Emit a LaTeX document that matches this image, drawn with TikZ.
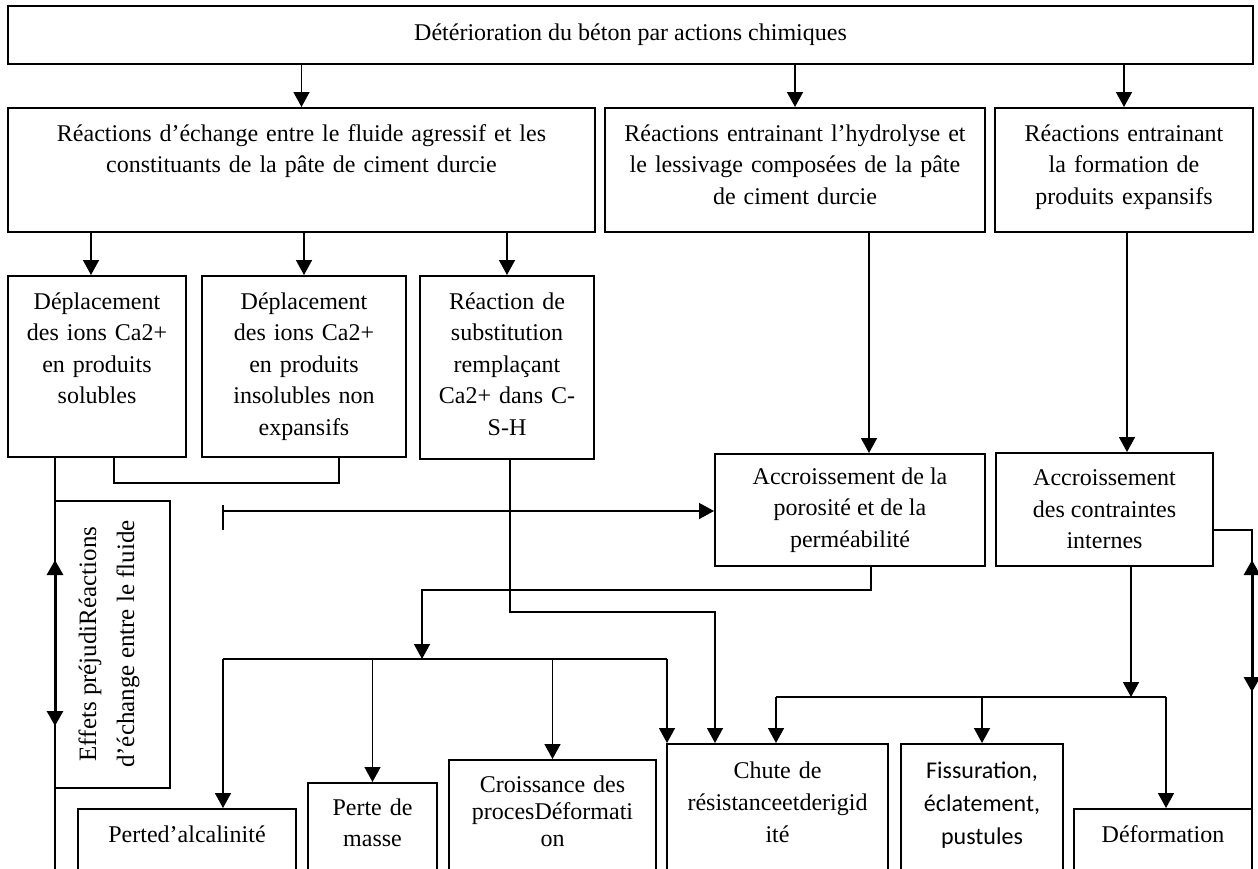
\documentclass[tikz,border=0pt]{standalone}
\usepackage{fontspec}
\setmainfont{Liberation Serif}
\newfontfamily\calib{Carlito}
\usetikzlibrary{arrows.meta}
\begin{document}
\begin{tikzpicture}[x=0.5pt,y=-0.5pt,
  box/.style={draw, line width=1pt, inner sep=0pt},
  cbox/.style={draw, line width=1pt, inner sep=0pt, align=center, font=\fontsize{12}{15.75}\selectfont},
  txt/.style={inner sep=0pt, align=center, anchor=base, font=\fontsize{12}{15.75}\selectfont},
  ln/.style={line width=0.8pt},
  arr/.style={line width=0.8pt, -{Triangle[length=7.5pt,width=8pt]}},
  dbl/.style={line width=1.5pt, {Triangle[length=7.5pt,width=8pt]}-{Triangle[length=7.5pt,width=8pt]}},
]
\useasboundingbox (0,0) rectangle (1258,868);
\fill[white] (0,0) rectangle (1258,868);
\clip (0,0) rectangle (1258,868);

% level 1
\node[cbox, minimum width=622.5pt, minimum height=29pt] (top) at (630.5,35) {Détérioration du béton par actions chimiques};

% level 2
\node[box, minimum width=293.5pt, minimum height=62pt] (rA) at (301.5,170) {};
\node[txt, text width=293.5pt] (tA) at (301.5,141) {Réactions d’échange entre le fluide agressif et les\\constituants de la pâte de ciment durcie};
\node[box, minimum width=190pt, minimum height=62pt] (rB) at (795,170) {};
\node[txt, text width=190pt] (tB) at (795,141) {Réactions entrainant l’hydrolyse et\\le lessivage composées de la pâte\\de ciment durcie};
\node[box, minimum width=129pt, minimum height=62pt] (rC) at (1124,170) {};
\node[txt, text width=129pt] (tC) at (1124,141) {Réactions entrainant\\la formation de\\produits expansifs};

\draw[arr] (top.south -| rA.north) -- (rA.north);
\draw[arr] (top.south -| rB.north) -- (rB.north);
\draw[arr] (top.south -| rC.north) -- (rC.north);

% level 3
\node[box, minimum width=89pt, minimum height=90.5pt] (b1) at (97,366.5) {};
\node[txt, text width=89pt] (t1) at (97,309) {Déplacement\\des ions Ca2+\\en produits\\solubles};
\node[box, minimum width=102pt, minimum height=90.5pt] (b2) at (304,366.5) {};
\node[txt, text width=102pt] (t2) at (304,309) {Déplacement\\des ions Ca2+\\en produits\\insolubles non\\expansifs};
\node[box, minimum width=87pt, minimum height=91.5pt] (b3) at (507,367.5) {};
\node[txt, text width=87pt] (t3) at (507,309) {Réaction de\\substitution\\remplaçant\\Ca2+ dans C-\\S-H};

\coordinate (a1) at (91,0);
\draw[arr] (rA.south -| a1) -- (b1.north -| a1);
\draw[arr] (rA.south -| b2.north) -- (b2.north);
\draw[arr] (rA.south -| b3.north) -- (b3.north);

% accroissement boxes
\node[cbox, minimum width=135pt, minimum height=56pt] (poro) at (850,510) {Accroissement de la\\porosité et de la\\perméabilité};
\node[cbox, minimum width=108.5pt, minimum height=56.5pt] (contr) at (1104.5,509.5) {Accroissement\\des contraintes\\internes};
\coordinate (pa) at (869,0);
\draw[arr] (rB.south -| pa) -- (poro.north -| pa);
\coordinate (ca) at (1127,0);
\draw[arr] (rC.south -| ca) -- (contr.north -| ca);

% rotated box
\node[box, minimum width=57.5pt, minimum height=143.5pt] (eff) at (112.5,644.5) {};
\node[rotate=90, inner sep=0pt, align=center, font=\fontsize{12.5}{19}\selectfont] (teff) at (109,644) {Effets préjudiRéactions\\d’échange entre le fluide};

% bottom boxes
\node[box, minimum width=109pt, minimum height=35.5pt] (alc) at (187,844.5) {};
\node[txt, text width=109pt] (talc) at (187,842) {Perted’alcalinité};
\node[box, minimum width=64.5pt, minimum height=48.5pt] (masse) at (372.5,831.5) {};
\node[txt, text width=64.5pt] (tmasse) at (372.5,815) {Perte de\\masse};
\node[box, minimum width=103.5pt, minimum height=60pt] (croiss) at (552.5,820) {};
\node[txt, text width=103.5pt, font=\fontsize{12}{13.5}\selectfont] (tcroiss) at (552.5,792) {Croissance des\\procesDéformati\\on};
\node[box, minimum width=110.5pt, minimum height=68pt] (chute) at (777.5,812) {};
\node[txt, text width=110.5pt, font=\fontsize{12}{16}\selectfont] (tchute) at (777.5,778) {Chute de\\résistanceetderigid\\ité};
\node[box, minimum width=81pt, minimum height=68pt] (fiss) at (982,812) {};
\node[txt, text width=81pt, font=\calib\fontsize{12}{16.5}\selectfont] (tfiss) at (982,778) {Fissuration,\\éclatement,\\pustules};
\node[box, minimum width=89pt, minimum height=35.5pt] (def) at (1163,844.5) {};
\node[txt, text width=89pt] (tdef) at (1163,842) {Déformation};

% bracket under b1/b2
\coordinate (k1) at (114,483);
\coordinate (k2) at (339,483);
\draw[ln] (b1.south -| k1) -- (k1) -- (k2) -- (b2.south -| k2);

% left vertical line and double arrow
\coordinate (lbot) at (55,880);
\draw[ln] (b1.south -| lbot) -- (lbot);
\coordinate (lu) at (55,560);
\coordinate (ld) at (55,726);
\draw[dbl] (lu) -- (ld);

% T-bar arrow to porosity box
\coordinate (tb) at (223,511);
\draw[ln] ([yshift=3pt]tb) -- ([yshift=-9.5pt]tb);
\draw[arr] (tb) -- (tb -| poro.west);

% from b3 to chute
\coordinate (m1) at (510,612);
\coordinate (m2) at (715,612);
\draw[arr] (b3.south -| m1) -- (m1) -- (m2) -- (chute.north -| m2);

% from porosity to left bar
\coordinate (p1) at (871,590);
\coordinate (p2) at (422,590);
\coordinate (p3) at (422,659);
\draw[arr] (poro.south -| p1) -- (p1) -- (p2) -- (p3);

\coordinate (bl) at (223,659);
\coordinate (br) at (667,659);
\draw[ln] (bl) -- (br);
\draw[arr] (bl) -- (alc.north -| bl);
\draw[arr] (bl -| masse.north) -- (masse.north);
\draw[arr] (bl -| croiss.north) -- (croiss.north);
\draw[arr] (br) -- (chute.north -| br);

% from contraintes to right bar
\coordinate (q) at (1131,697);
\coordinate (ql) at (776,697);
\coordinate (qr) at (1166,697);
\draw[arr] (contr.south -| q) -- (q);
\draw[ln] (ql) -- (qr);
\draw[arr] (ql) -- (chute.north -| ql);
\draw[arr] (ql -| fiss.north) -- (fiss.north);
\draw[arr] (qr) -- (def.north -| qr);

% right line and double arrow
\coordinate (rc) at (1252,530);
\coordinate (rbot) at (1252,880);
\draw[ln] (contr.east |- rc) -- (rc) -- (rbot);
\coordinate (ru) at (1252,560);
\coordinate (rd) at (1252,692);
\draw[dbl] (ru) -- (rd);
\end{tikzpicture}
\end{document}
